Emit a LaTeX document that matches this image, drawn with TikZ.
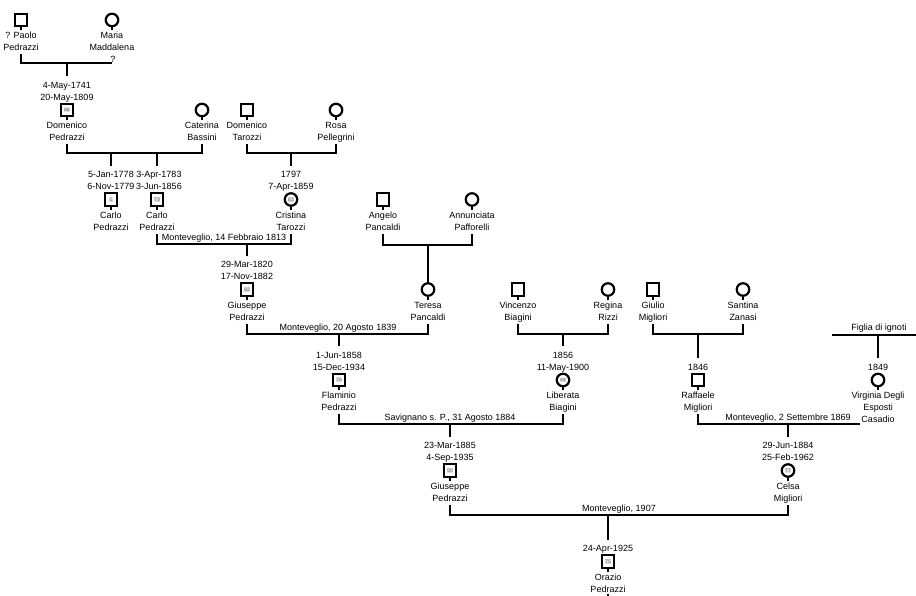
\documentclass[tikz,border=0pt]{standalone}
\usepackage{fontspec}
\setmainfont{Liberation Sans}
\usetikzlibrary{calc}
\definecolor{badgetxt}{RGB}{120,120,96}
\definecolor{badgebg}{RGB}{222,222,214}
\tikzset{
  ln/.style={line width=2.5pt},
  sqr/.style={draw, line width=2.2pt, minimum size=12.5pt, inner sep=0pt, fill=white},
  cir/.style={draw, circle, line width=2.2pt, minimum size=12.5pt, inner sep=0pt, fill=white},
  stem/.style={line width=2pt},
  txt/.style={anchor=base, inner sep=0pt, font=\fontsize{9}{11}\selectfont},
  badge/.style={fill=badgebg, text=badgetxt, inner sep=0.7pt, font=\fontsize{5}{5}\selectfont},
}
% #1 id, #2 x, #3 y, #4 shape, #5 badge, #6 date1, #7 date2, #8 name1, #9 name2
\newcommand\famperson[9]{%
  \node[#4] (#1) at (#2,#3) {};
  \draw[stem] (#1.south) -- ++(0,3);
  \if\relax\detokenize{#5}\relax\else\node[badge] (#1-k) at (#1) {#5};\fi
  \if\relax\detokenize{#6}\relax
    \if\relax\detokenize{#7}\relax
      \coordinate (#1-t) at (#2,#3-7);
    \else
      \node[txt] (#1-d2) at (#2,#3-10) {#7};
      \coordinate (#1-t) at (#2,#3-22);
    \fi
  \else
    \node[txt] (#1-d1) at (#2,#3-22) {#6};
    \node[txt] (#1-d2) at (#2,#3-10) {#7};
    \coordinate (#1-t) at (#2,#3-34);
  \fi
  \node[txt] (#1-n1) at (#2,#3+18.5) {#8};
  \node[txt] (#1-n2) at (#2,#3+30.5) {#9};
  \coordinate (#1-b) at (#2,#3+34);
}
\begin{document}
\begin{tikzpicture}[x=1pt,y=-1pt]
\fill[white] (0,0) rectangle (916,595);
\useasboundingbox (0,0) rectangle (916,595);

% persons
\famperson{paolo}{21}{20}{sqr}{}{}{}{? Paolo}{Pedrazzi}
\famperson{maria}{112}{20}{cir}{}{}{}{Maria}{Maddalena}
\node[txt] (maria-n3) at (113,62.5) {?};
\famperson{dom}{67}{110}{sqr}{66}{4-May-1741}{20-May-1809}{Domenico}{Pedrazzi}
\famperson{cat}{202}{110}{cir}{}{}{}{Caterina}{Bassini}
\famperson{domt}{247}{110}{sqr}{}{}{}{Domenico}{Tarozzi}
\famperson{rosa}{336}{110}{cir}{}{}{}{Rosa}{Pellegrini}
\famperson{carloa}{111}{199.5}{sqr}{1}{5-Jan-1778}{6-Nov-1779}{Carlo}{Pedrazzi}
\famperson{carlob}{157}{199.5}{sqr}{73}{}{}{Carlo}{Pedrazzi}
\node[txt] (carlob-d1) at (159,177.5) {3-Apr-1783};
\node[txt] (carlob-d2) at (159,189.5) {3-Jun-1856};
\coordinate (carlob-t) at (157,165.5);
\famperson{cris}{291}{199.5}{cir}{62}{1797}{7-Apr-1859}{Cristina}{Tarozzi}
\famperson{ang}{383}{199.5}{sqr}{}{}{}{Angelo}{Pancaldi}
\famperson{ann}{472}{199.5}{cir}{}{}{}{Annunciata}{Pafforelli}
\famperson{gius}{247}{289.5}{sqr}{82}{29-Mar-1820}{17-Nov-1882}{Giuseppe}{Pedrazzi}
\famperson{ter}{428}{289.5}{cir}{}{}{}{Teresa}{Pancaldi}
\famperson{vin}{518}{289.5}{sqr}{}{}{}{Vincenzo}{Biagini}
\famperson{reg}{608}{289.5}{cir}{}{}{}{Regina}{Rizzi}
\famperson{giu}{653}{289.5}{sqr}{}{}{}{Giulio}{Migliori}
\famperson{san}{743}{289.5}{cir}{}{}{}{Santina}{Zanasi}
\famperson{flam}{339}{380}{sqr}{76}{1-Jun-1858}{15-Dec-1934}{Flaminio}{Pedrazzi}
\famperson{lib}{563}{380}{cir}{44}{1856}{11-May-1900}{Liberata}{Biagini}
\famperson{raf}{698}{380}{sqr}{}{}{1846}{Raffaele}{Migliori}
\famperson{vir}{878}{380}{cir}{}{}{1849}{Virginia Degli}{Esposti}
\node[txt] (vir-n3) at (878,422.5) {Casadio};
\famperson{gp}{450}{470.5}{sqr}{50}{23-Mar-1885}{4-Sep-1935}{Giuseppe}{Pedrazzi}
\famperson{cel}{788}{470.5}{cir}{77}{29-Jun-1884}{25-Feb-1962}{Celsa}{Migliori}
\famperson{ora}{608}{561.5}{sqr}{75}{}{24-Apr-1925}{Orazio}{Pedrazzi}

% families
\coordinate (b1) at (67,63);
\draw[ln] (paolo-b) |- (maria |- b1);
\draw[ln] (b1) -- (dom-t);

\coordinate (b2) at (111,153);
\draw[ln] (dom-b) |- (b2) -| (cat-b);
\draw[ln] (b2) -- (carloa-t);
\draw[ln] (carlob |- b2) -- (carlob-t);

\coordinate (b3) at (291,153);
\draw[ln] (domt-b) |- (b3) -| (rosa-b);
\draw[ln] (b3) -- (cris-t);

\coordinate (b4) at (247,244);
\draw[ln] (carlob-b) |- (b4) -| (cris-b);
\draw[ln] (b4) -- (gius-t);
\node[txt] (l1) at (224,240.5) {Monteveglio, 14 Febbraio 1813};

\coordinate (b5) at (428,245);
\draw[ln] (ang-b) |- (b5) -| (ann-b);
\draw[ln] (b5) -- (ter-t);

\coordinate (b6) at (339,334);
\draw[ln] (gius-b) |- (b6) -| (ter-b);
\draw[ln] (b6) -- (flam-t);
\node[txt] (l2) at (338,330.5) {Monteveglio, 20 Agosto 1839};

\coordinate (b7) at (563,334);
\draw[ln] (vin-b) |- (b7) -| (reg-b);
\draw[ln] (b7) -- (lib-t);

\coordinate (b8) at (698,334);
\draw[ln] (giu-b) |- (b8) -| (san-b);
\draw[ln] (b8) -- (raf-t);

\coordinate (fl) at (832,335);
\coordinate (fr) at (916,335);
\draw[ln] (fl) -- (fr);
\draw[ln] (vir |- fl) -- (vir-t);
\node[txt] (l3) at (879,330.5) {Figlia di ignoti};

\coordinate (b9) at (450,424);
\draw[ln] (flam-b) |- (b9) -| (lib-b);
\draw[ln] (b9) -- (gp-t);
\node[txt] (l4) at (450,420.5) {Savignano s. P., 31 Agosto 1884};

\coordinate (b10) at (788,424);
\coordinate (b10r) at (860,424);
\draw[ln] (raf-b) |- (b10r);
\draw[ln] (b10) -- (cel-t);
\node[txt] (l5) at (788,420.5) {Monteveglio, 2 Settembre 1869};

\coordinate (b11) at (608,515);
\draw[ln] (gp-b) |- (b11) -| (cel-b);
\draw[ln] (b11) -- (ora-t);
\node[txt] (l6) at (619,511.5) {Monteveglio, 1907};

\coordinate (oraz) at (608,600);
\draw[ln] ($(ora-n2.south)+(0,1.5)$) -- (oraz);
\end{tikzpicture}
\end{document}
